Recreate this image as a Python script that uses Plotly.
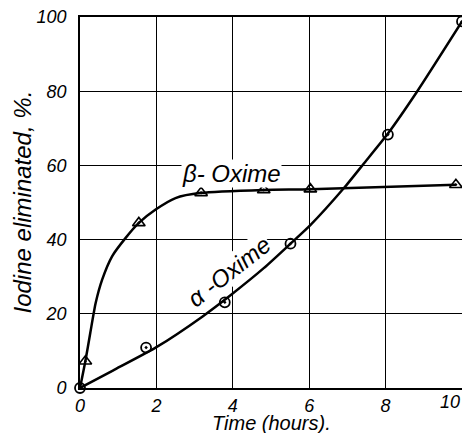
import plotly.graph_objects as go

# Data
alpha_t = [0, 1.73, 3.79, 5.51, 8.06, 10.0]
alpha_y = [0, 10.9, 23.1, 38.9, 68.3, 98.8]

beta_t = [0.14, 1.54, 3.17, 4.81, 6.03, 9.84]
beta_y = [7.2, 44.5, 52.6, 53.4, 53.6, 54.8]

# Drawn smooth curves
alpha_curve_t = [0, 0.86, 2.0, 3.21, 3.94, 4.81, 5.51, 6.03, 6.91, 7.43, 8.04, 8.83, 10.0]
alpha_curve_y = [0, 4.7, 11.0, 19.3, 25.0, 32.3, 38.9, 43.9, 53.9, 60.5, 68.3, 80.0, 98.8]
beta_curve_t = [0, 0.14, 0.27, 0.41, 0.58, 0.84, 1.19, 1.54, 1.98, 2.5, 3.17, 4.81, 6.03, 9.84]
beta_curve_y = [0, 7.2, 14.9, 22.9, 29.2, 35.5, 40.4, 44.5, 48.1, 51.2, 52.6, 53.4, 53.6, 54.8]

x_ticks = [0, 2, 4, 6, 8, 10]
y_ticks = [0, 20, 40, 60, 80, 100]

FONT = "Liberation Sans"
tick_font = dict(family=FONT, size=18, color="black", style="italic")

fig = go.Figure()

fig.add_trace(go.Scatter(x=alpha_curve_t, y=alpha_curve_y, mode="lines",
                         line=dict(color="black", width=2.5, shape="spline", smoothing=0.6),
                         hoverinfo="skip", showlegend=False, cliponaxis=False))
fig.add_trace(go.Scatter(x=beta_curve_t, y=beta_curve_y, mode="lines",
                         line=dict(color="black", width=2.5, shape="spline", smoothing=0.6),
                         hoverinfo="skip", showlegend=False, cliponaxis=False))

fig.add_trace(go.Scatter(x=alpha_t, y=alpha_y, mode="markers", name="α-Oxime",
                         marker=dict(symbol="circle-open-dot", size=10, color="black",
                                     line=dict(width=1.8, color="black")),
                         showlegend=False, cliponaxis=False))
fig.add_trace(go.Scatter(x=beta_t, y=beta_y, mode="markers", name="β-Oxime",
                         marker=dict(symbol="triangle-up-open-dot", size=11, color="black",
                                     line=dict(width=1.6, color="black")),
                         showlegend=False, cliponaxis=False))

fig.add_annotation(x=3.97, y=57.8, xref="x", yref="y", text="β- Oxime",
                   showarrow=False, bgcolor="white", borderpad=0,
                   font=dict(family=FONT, size=24, color="black", style="italic"))
fig.add_annotation(x=3.9, y=31.5, xref="x", yref="y", text="α -Oxime",
                   showarrow=False, textangle=-38, bgcolor="white", borderpad=0,
                   font=dict(family=FONT, size=24, color="black", style="italic"))

fig.add_annotation(x=0.5, y=0, xref="paper", yref="paper", yshift=-35,
                   text="Time (hours).", showarrow=False, yanchor="middle",
                   font=dict(family=FONT, size=20, color="black", style="italic"))
fig.add_annotation(x=0, y=0.5, xref="paper", yref="paper", xshift=-58,
                   text="Iodine eliminated, %.", showarrow=False, textangle=-90,
                   xanchor="center",
                   font=dict(family=FONT, size=24, color="black", style="italic"))

axis_common = dict(showline=True, mirror=True, linecolor="black", linewidth=1.6,
                   showgrid=True, gridcolor="black", gridwidth=1.1, zeroline=False,
                   ticks="", ticklabeloverflow="allow", automargin=False,
                   tickfont=tick_font)

# the last x label sits at the page edge: draw it right-aligned so it stays visible
x_ticktext = [str(v) for v in x_ticks[:-1]] + [""]
fig.add_annotation(x=x_ticks[-1], y=0, xref="x", yref="paper", text=str(x_ticks[-1]),
                   showarrow=False, xanchor="right", yanchor="top", xshift=0, yshift=-2,
                   font=tick_font)

fig.update_xaxes(range=[0, 10], tickvals=x_ticks, ticktext=x_ticktext,
                 ticklabelstandoff=1, **axis_common)
fig.update_yaxes(range=[0, 100], tickvals=y_ticks, ticktext=[str(v) for v in y_ticks],
                 ticklabelstandoff=8, **axis_common)

# page body has an 8px margin: shrink the figure so the plot lands where the reference has it
fig.update_layout(width=462, height=425, margin=dict(l=72, r=8, t=9, b=45, autoexpand=False),
                  paper_bgcolor="white", plot_bgcolor="white", showlegend=False)

fig.write_html("out.html")
